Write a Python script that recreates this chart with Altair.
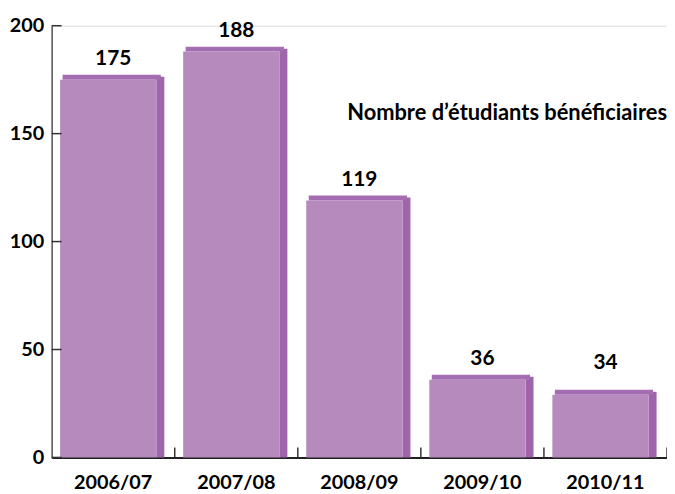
import altair as alt
import pandas as pd

years = ["2006/07", "2007/08", "2008/09", "2009/10", "2010/11"]
label_values = [175, 188, 119, 36, 34]
drawn_heights = [175, 188, 119, 36, 29]
y_ticks = [0, 50, 100, 150, 200]
title_text = "Nombre d\u2019étudiants bénéficiaires"

FRONT = "#b78abe"
SIDE = "#9e65aa"
TOP = "#a56db1"
FONT = "Lato"

df = pd.DataFrame({"year": years, "h": drawn_heights, "label": label_values})
ticks_df = pd.DataFrame({"t": y_ticks})

W, H = 620, 435

xenc = alt.X("year:N", sort=years, scale=alt.Scale(paddingInner=0, paddingOuter=0),
             axis=alt.Axis(title=None, labelAngle=0, ticks=False, labelFont=FONT,
                           labelFontSize=20, labelFontWeight="bold", labelColor="black",
                           labelPadding=15, domainColor="#222", domainWidth=2))
yscale = alt.Scale(domain=[0, 200])
yenc = alt.Y("h:Q", scale=yscale,
             axis=alt.Axis(title=None, values=y_ticks, ticks=False, grid=False,
                           labelFont=FONT, labelFontSize=20, labelFontWeight="bold",
                           labelColor="black", labelPadding=8,
                           domainColor="#555", domainWidth=1.5))

base = alt.Chart(df)

side = base.mark_bar(width=8, xOffset=47.5, yOffset=-3, color=SIDE).encode(
    x=xenc, y=yenc, y2=alt.datum(0))
top = base.mark_bar(width=99, xOffset=-1.5, y2Offset=-5, color=TOP).encode(
    x=xenc, y=yenc, y2="h:Q")
front = base.mark_bar(width=97, xOffset=-5, color=FRONT).encode(x=xenc, y=yenc)

labels = base.mark_text(font=FONT, fontSize=21, fontWeight="bold", color="black",
                        baseline="bottom", dy=-11).encode(
    x=alt.X("year:N", sort=years), y=alt.Y("label:Q", scale=yscale), text="label:Q")

ytick_marks = alt.Chart(ticks_df).mark_rule(color="#333", strokeWidth=1.5).encode(
    y=alt.Y("t:Q", scale=yscale), x=alt.value(0), x2=alt.value(10))

xtick_marks = alt.Chart(df).mark_rule(color="#333", strokeWidth=1.5).encode(
    x=alt.X("year:N", sort=years, bandPosition=1), y=alt.value(H), y2=alt.value(H - 10))

title = alt.Chart(pd.DataFrame({"t": [title_text]})).mark_text(
    font=FONT, fontSize=22, fontWeight="bold", color="black", align="right",
    baseline="alphabetic").encode(x=alt.value(W), y=alt.value(95), text="t:N")

chart = alt.layer(side, top, front, labels, ytick_marks, xtick_marks, title).properties(
    width=W, height=H,
    autosize=alt.AutoSizeParams(type="none"),
    padding={"left": 44, "top": 16, "right": 0, "bottom": 34},
).configure_view(stroke=None).configure(background="white")

chart.save("out.html", embed_options={"renderer": "svg", "actions": False})
